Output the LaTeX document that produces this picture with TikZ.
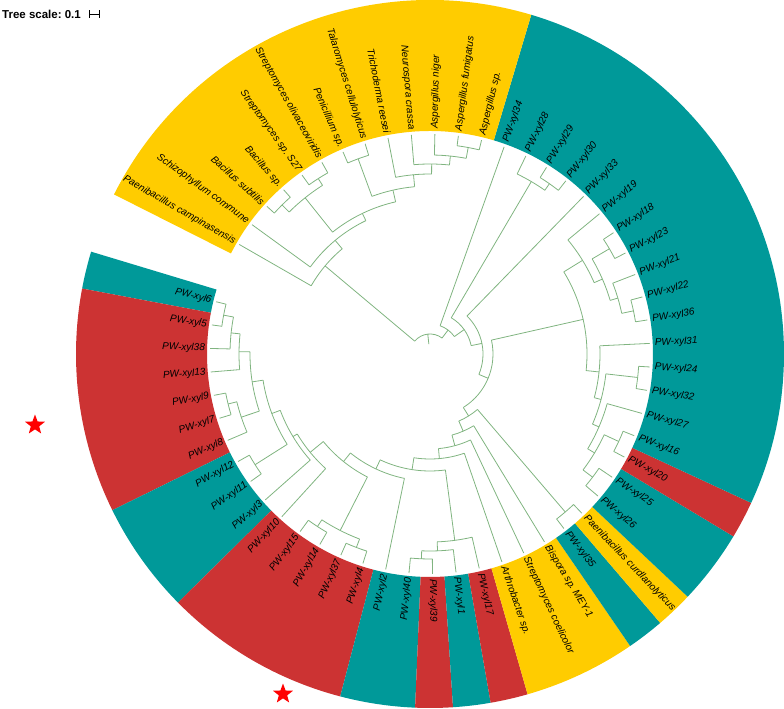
\documentclass[tikz,border=0pt]{standalone}
\usepackage{fontspec}
\setmainfont{Liberation Sans}
\usetikzlibrary{shapes.geometric}
\definecolor{bandteal}{RGB}{0,153,153}
\definecolor{bandred}{RGB}{204,51,51}
\definecolor{bandyellow}{RGB}{255,204,0}
\definecolor{branchgreen}{RGB}{128,180,128}
\frenchspacing
\newcommand\tip{220}
% one internal node: radius, child angle/end, child angle/end
\newcommand\clade[5]{%
  \pgfmathsetmacro\cangA{#2}\pgfmathsetmacro\cangB{#4}%
  \draw[branch] (\cangA:#1pt) -- (\cangA:#3pt);
  \draw[branch] (\cangB:#1pt) -- (\cangB:#5pt);
  \draw[branch] (\cangA:#1pt) arc[start angle=\cangA, end angle=\cangB, radius=#1pt];
}
% coloured range: colour, first leaf, last leaf
\newcommand\band[3]{%
  \pgfmathsetmacro\bangA{163.2+6.1404*#2}\pgfmathsetmacro\bangB{163.2+6.1404*(#3+1)}%
  \fill[#1] (\bangA:223pt) arc[start angle=\bangA, end angle=\bangB, radius=223pt]
    -- (\bangB:354pt) arc[start angle=\bangB, end angle=\bangA, radius=354pt] -- cycle;
}
% leaf label: index, text
\newcommand\leaf[2]{%
  \pgfmathsetmacro\leafang{lf(#1)}\pgfmathsetmacro\leafmod{mod(\leafang,360)}%
  \pgfmathtruncatemacro\leafflip{(\leafmod>90)&&(\leafmod<270)}%
  \ifnum\leafflip=1
    \pgfmathsetmacro\leafrot{\leafmod+180}%
    \node[leaflab, anchor=east, rotate=\leafrot] (leaf#1) at (\leafang:225pt) {#2};
  \else
    \node[leaflab, anchor=west, rotate=\leafmod] (leaf#1) at (\leafang:225pt) {#2};
  \fi
}
\begin{document}
\begin{tikzpicture}[x=1pt, y=1pt, declare function={lf(\i)=163.2+6.1404*(\i+0.5);}]
\tikzset{branch/.style={draw=branchgreen, line width=0.8pt},
  leaflab/.style={font=\itshape\fontsize{10}{12}\selectfont, inner sep=0pt},
  mark star/.style={star, star points=5, star point ratio=2.4, fill=red, draw=none, minimum size=21pt, inner sep=0pt}}
\useasboundingbox (-430,-355) rectangle (354,354);
% coloured ranges
\band{bandteal}{0}{0} \band{bandred}{1}{6} \band{bandteal}{7}{9} \band{bandred}{10}{14}
\band{bandteal}{15}{16} \band{bandred}{17}{17} \band{bandteal}{18}{18} \band{bandred}{19}{19}
\band{bandyellow}{20}{22} \band{bandteal}{23}{23} \band{bandyellow}{24}{24} \band{bandteal}{25}{26}
\band{bandred}{27}{27} \band{bandteal}{28}{43} \band{bandyellow}{44}{56}
% node angles
\pgfmathsetmacro\ndsixfive{(lf(0)+lf(1))/2}
\pgfmathsetmacro\ndthirtyeight{(\ndsixfive+lf(2))/2}
\pgfmathsetmacro\ndthirteen{(\ndthirtyeight+lf(3))/2}
\pgfmathsetmacro\ndnineseven{(lf(4)+lf(5))/2}
\pgfmathsetmacro\ndeight{(\ndnineseven+lf(6))/2}
\pgfmathsetmacro\ndupper{(\ndthirteen+\ndeight)/2}
\pgfmathsetmacro\ndtwelve{(lf(7)+lf(8))/2}
\pgfmathsetmacro\ndxfour{(\ndupper+\ndtwelve)/2}
\pgfmathsetmacro\ndxthree{(\ndxfour+lf(9))/2}
\pgfmathsetmacro\ndxtwo{(\ndxthree+lf(10))/2}
\pgfmathsetmacro\ndfifteen{(lf(11)+lf(12))/2}
\pgfmathsetmacro\ndthirtyseven{(lf(13)+lf(14))/2}
\pgfmathsetmacro\ndbone{(\ndfifteen+\ndthirtyseven)/2}
\pgfmathsetmacro\ndqseven{(\ndxtwo+\ndbone)/2}
\pgfmathsetmacro\ndqsix{(\ndqseven+lf(15))/2}
\pgfmathsetmacro\ndforty{(lf(16)+lf(17))/2}
\pgfmathsetmacro\ndone{(\ndforty+lf(18))/2}
\pgfmathsetmacro\ndseventeen{(\ndone+lf(19))/2}
\pgfmathsetmacro\ndqfive{(\ndqsix+\ndseventeen)/2}
\pgfmathsetmacro\ndqfour{(\ndqfive+lf(20))/2}
\pgfmathsetmacro\ndqthree{(\ndqfour+lf(21))/2}
\pgfmathsetmacro\ndqtwo{(\ndqthree+lf(22))/2}
\pgfmathsetmacro\ndcurd{(lf(23)+lf(24))/2}
\pgfmathsetmacro\ndq{(\ndqtwo+\ndcurd)/2}
\pgfmathsetmacro\ndtwentysix{(lf(25)+lf(26))/2}
\pgfmathsetmacro\ndtwenty{(lf(27)+lf(28))/2}
\pgfmathsetmacro\ndlfour{(\ndtwentysix+\ndtwenty)/2}
\pgfmathsetmacro\ndlthree{(\ndlfour+lf(29))/2}
\pgfmathsetmacro\ndtwentyfour{(lf(30)+lf(31))/2}
\pgfmathsetmacro\ndltwo{(\ndlthree+\ndtwentyfour)/2}
\pgfmathsetmacro\ndl{(\ndltwo+lf(32))/2}
\pgfmathsetmacro\ndtwentytwo{(lf(33)+lf(34))/2}
\pgfmathsetmacro\ndtwentyone{(\ndtwentytwo+lf(35))/2}
\pgfmathsetmacro\ndeighteen{(lf(36)+lf(37))/2}
\pgfmathsetmacro\ndrtone{(\ndtwentyone+\ndeighteen)/2}
\pgfmathsetmacro\ndu{(\ndrtone+lf(38))/2}
\pgfmathsetmacro\ndr{(\ndl+\ndu)/2}
\pgfmathsetmacro\ndpone{(\ndq+\ndr)/2}
\pgfmathsetmacro\ndsthree{(\ndpone+lf(39))/2}
\pgfmathsetmacro\ndtwentynine{(lf(40)+lf(41))/2}
\pgfmathsetmacro\ndtwentyeight{(\ndtwentynine+lf(42))/2}
\pgfmathsetmacro\ndstwo{(\ndsthree+\ndtwentyeight)/2}
\pgfmathsetmacro\ndsone{(\ndstwo+lf(43))/2}
\pgfmathsetmacro\ndasp{(lf(44)+lf(45))/2}
\pgfmathsetmacro\ndniger{(\ndasp+lf(46))/2}
\pgfmathsetmacro\ndneuro{(\ndniger+lf(47))/2}
\pgfmathsetmacro\ndtrich{(\ndneuro+lf(48))/2}
\pgfmathsetmacro\ndtalaro{(lf(49)+lf(50))/2}
\pgfmathsetmacro\ndfungi{(\ndtrich+\ndtalaro)/2}
\pgfmathsetmacro\ndstrep{(lf(51)+lf(52))/2}
\pgfmathsetmacro\ndbacil{(lf(53)+lf(54))/2}
\pgfmathsetmacro\ndbact{(\ndstrep+\ndbacil)/2}
\pgfmathsetmacro\ndytwo{(\ndfungi+\ndbact)/2}
\pgfmathsetmacro\ndyone{(\ndytwo+lf(55))/2}
\pgfmathsetmacro\ndy{(\ndyone+lf(56))/2}
\pgfmathsetmacro\ndroot{(\ndsone+\ndy)/2}
% left clade
\clade{210}{lf(0)}{\tip}{lf(1)}{\tip}
\clade{200}{\ndsixfive}{210}{lf(2)}{\tip}
\clade{191}{\ndthirtyeight}{200}{lf(3)}{\tip}
\clade{208}{lf(4)}{\tip}{lf(5)}{\tip}
\clade{199}{\ndnineseven}{208}{lf(6)}{\tip}
\clade{180}{\ndthirteen}{191}{\ndeight}{199}
\clade{207}{lf(7)}{\tip}{lf(8)}{\tip}
\clade{169}{\ndupper}{180}{\ndtwelve}{207}
\clade{160}{\ndxfour}{169}{lf(9)}{\tip}
\clade{155}{\ndxthree}{160}{lf(10)}{\tip}
\clade{206}{lf(11)}{\tip}{lf(12)}{\tip}
\clade{207}{lf(13)}{\tip}{lf(14)}{\tip}
\clade{198}{\ndfifteen}{206}{\ndthirtyseven}{207}
\clade{138}{\ndxtwo}{155}{\ndbone}{198}
\clade{127}{\ndqseven}{138}{lf(15)}{\tip}
% bottom clade
\clade{205}{lf(16)}{\tip}{lf(17)}{\tip}
\clade{197}{\ndforty}{205}{lf(18)}{\tip}
\clade{188}{\ndone}{197}{lf(19)}{\tip}
\clade{117}{\ndqsix}{127}{\ndseventeen}{188}
\clade{105}{\ndqfive}{117}{lf(20)}{\tip}
\clade{95}{\ndqfour}{105}{lf(21)}{\tip}
\clade{84}{\ndqthree}{95}{lf(22)}{\tip}
\clade{208}{lf(23)}{\tip}{lf(24)}{\tip}
\clade{73}{\ndqtwo}{84}{\ndcurd}{208}
% right clade
\clade{204}{lf(25)}{\tip}{lf(26)}{\tip}
\clade{208}{lf(27)}{\tip}{lf(28)}{\tip}
\clade{192}{\ndtwentysix}{204}{\ndtwenty}{208}
\clade{184}{\ndlfour}{192}{lf(29)}{\tip}
\clade{209}{lf(30)}{\tip}{lf(31)}{\tip}
\clade{177}{\ndlthree}{184}{\ndtwentyfour}{209}
\clade{170}{\ndltwo}{177}{lf(32)}{\tip}
\clade{208}{lf(33)}{\tip}{lf(34)}{\tip}
\clade{196}{\ndtwentytwo}{208}{lf(35)}{\tip}
\clade{208}{lf(36)}{\tip}{lf(37)}{\tip}
\clade{188}{\ndtwentyone}{196}{\ndeighteen}{208}
\clade{179}{\ndrtone}{188}{lf(38)}{\tip}
\clade{157}{\ndl}{170}{\ndu}{179}
\clade{63}{\ndq}{73}{\ndr}{157}
\clade{53}{\ndpone}{63}{lf(39)}{\tip}
\clade{208}{lf(40)}{\tip}{lf(41)}{\tip}
\clade{200}{\ndtwentynine}{208}{lf(42)}{\tip}
\clade{42}{\ndsthree}{53}{\ndtwentyeight}{200}
\clade{30}{\ndstwo}{42}{lf(43)}{\tip}
% top clade
\clade{210}{lf(44)}{\tip}{lf(45)}{\tip}
\clade{199}{\ndasp}{210}{lf(46)}{\tip}
\clade{190}{\ndniger}{199}{lf(47)}{\tip}
\clade{180}{\ndneuro}{190}{lf(48)}{\tip}
\clade{208}{lf(49)}{\tip}{lf(50)}{\tip}
\clade{168}{\ndtrich}{180}{\ndtalaro}{208}
\clade{208}{lf(51)}{\tip}{lf(52)}{\tip}
\clade{210}{lf(53)}{\tip}{lf(54)}{\tip}
\clade{200}{\ndstrep}{208}{\ndbacil}{210}
\clade{156}{\ndfungi}{168}{\ndbact}{200}
\clade{148}{\ndytwo}{156}{lf(55)}{\tip}
\clade{137}{\ndyone}{148}{lf(56)}{\tip}
% root
\clade{20}{\ndsone}{30}{\ndy}{137}
\draw[branch] (\ndroot:10pt) -- (\ndroot:20pt);
% leaf labels
\leaf{0}{PW-xyl6} \leaf{1}{PW-xyl5} \leaf{2}{PW-xyl38} \leaf{3}{PW-xyl13} \leaf{4}{PW-xyl9}
\leaf{5}{PW-xyl7} \leaf{6}{PW-xyl8} \leaf{7}{PW-xyl12} \leaf{8}{PW-xyl11} \leaf{9}{PW-xyl3}
\leaf{10}{PW-xyl10} \leaf{11}{PW-xyl15} \leaf{12}{PW-xyl14} \leaf{13}{PW-xyl37} \leaf{14}{PW-xyl4}
\leaf{15}{PW-xyl2} \leaf{16}{PW-xyl40} \leaf{17}{PW-xyl39} \leaf{18}{PW-xyl1} \leaf{19}{PW-xyl17}
\leaf{20}{Arthrobacter sp.} \leaf{21}{Streptomyces coelicolor} \leaf{22}{Bispora sp. MEY-1}
\leaf{23}{PW-xyl35} \leaf{24}{Paenibacillus curdlanolyticus} \leaf{25}{PW-xyl26} \leaf{26}{PW-xyl25}
\leaf{27}{PW-xyl20} \leaf{28}{PW-xyl16} \leaf{29}{PW-xyl27} \leaf{30}{PW-xyl32} \leaf{31}{PW-xyl24}
\leaf{32}{PW-xyl31} \leaf{33}{PW-xyl36} \leaf{34}{PW-xyl22} \leaf{35}{PW-xyl21} \leaf{36}{PW-xyl23}
\leaf{37}{PW-xyl18} \leaf{38}{PW-xyl19} \leaf{39}{PW-xyl33} \leaf{40}{PW-xyl30} \leaf{41}{PW-xyl29}
\leaf{42}{PW-xyl28} \leaf{43}{PW-xyl34} \leaf{44}{Aspergillus sp.} \leaf{45}{Aspergillus fumigatus}
\leaf{46}{Aspergillus niger} \leaf{47}{Neurospora crassa} \leaf{48}{Trichoderma reesei}
\leaf{49}{Talaromyces cellulolyticus} \leaf{50}{Penicillium sp.} \leaf{51}{Streptomyces olivaceoviridis}
\leaf{52}{Streptomyces sp. S27} \leaf{53}{Bacillus sp.} \leaf{54}{Bacillus subtilis}
\leaf{55}{Schizophyllum commune} \leaf{56}{Paenibacillus campinasensis}
% scale and stars
\node[font=\bfseries\fontsize{11.5}{13}\selectfont, anchor=west, inner sep=0pt] (scale) at (-428,340) {Tree scale: 0.1};
\draw[|-|, line width=0.8pt] ([xshift=8pt]scale.east) -- ++(11,0);
\node[mark star] (star1) at (-395,-71) {};
\node[mark star] (star2) at (-147,-340) {};
\end{tikzpicture}
\end{document}
